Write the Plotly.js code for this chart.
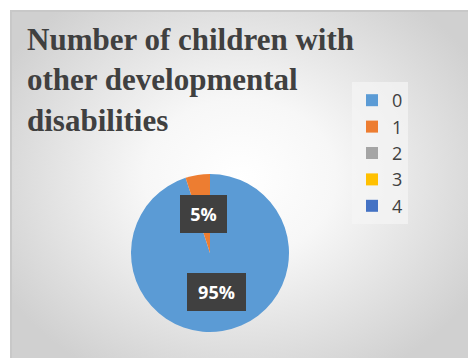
<!DOCTYPE html>
<html>
<head>
<meta charset="utf-8">
<script src="https://cdn.plot.ly/plotly-3.0.1.min.js"></script>
<style>
  html, body { margin: 0; padding: 0; background: #ffffff; }
  #bg {
    position: absolute; left: 10px; top: 10px; width: 458px; height: 348px;
    box-sizing: border-box; border-top: 2px solid #c8c8c8; border-left: 2px solid #c8c8c8;
    background: radial-gradient(ellipse 60% 65% at 50% 48%, #ffffff 0%, #f7f7f7 35%, #d0d0d0 100%);
  }
  #chart { position: absolute; left: 0; top: 0; width: 468px; height: 358px; }
</style>
</head>
<body>
<div id="bg"></div>
<div id="chart"></div>
<script>
const categories = ['0', '1', '2', '3', '4'];
const values = [95, 5, 0, 0, 0];
const colors = ['#5B9BD5', '#ED7D31', '#A5A5A5', '#FFC000', '#4472C4'];
const chartTitle = 'Number of children with<br>other developmental<br>disabilities';

// label box positions (paper coords) for each non-zero slice
const labelPos = { '0': [216, 292], '1': [203, 214] };

const total = values.reduce((a, b) => a + b, 0);
const annotations = [];
categories.forEach((c, i) => {
  if (values[i] > 0 && labelPos[c]) {
    const pct = Math.round(values[i] / total * 100) + '%';
    annotations.push({
      xref: 'paper', yref: 'paper',
      x: labelPos[c][0] / 468, y: 1 - labelPos[c][1] / 358,
      xanchor: 'center', yanchor: 'middle',
      text: '<b>' + pct + '</b>', showarrow: false,
      font: { family: 'Open Sans, sans-serif', size: 18, color: '#ffffff' },
      bgcolor: '#404040', borderpad: 7, borderwidth: 0,
      width: pct.length > 2 ? 45 : 33, height: 24
    });
  }
});

const data = [{
  type: 'pie',
  labels: categories,
  values: values,
  sort: false,
  direction: 'clockwise',
  rotation: 0,
  marker: { colors: colors, line: { width: 0 } },
  textinfo: 'none',
  hoverinfo: 'label+percent',
  domain: { x: [131 / 468, 289 / 468], y: [1 - 332 / 358, 1 - 174 / 358] }
}];

const layout = {
  width: 468, height: 358,
  margin: { l: 0, r: 0, t: 0, b: 0 },
  paper_bgcolor: 'rgba(0,0,0,0)',
  plot_bgcolor: 'rgba(0,0,0,0)',
  showlegend: true,
  title: {
    text: chartTitle,
    xref: 'container', yref: 'container',
    x: 27 / 468, xanchor: 'left',
    y: 1 - 50 / 358, yanchor: 'top',
    font: { family: 'Liberation Serif, Times New Roman, serif', size: 31, color: '#404040', weight: 'bold' }
  },
  legend: {
    x: 352 / 468, xanchor: 'left',
    y: 1 - 82 / 358, yanchor: 'top',
    bgcolor: 'rgba(245,245,245,0.7)',
    font: { family: 'Open Sans, sans-serif', size: 18, color: '#404040' },
    traceorder: 'normal'
  },
  annotations: annotations
};

Plotly.newPlot('chart', data, layout, { displayModeBar: false, staticPlot: true });
</script>
</body>
</html>
